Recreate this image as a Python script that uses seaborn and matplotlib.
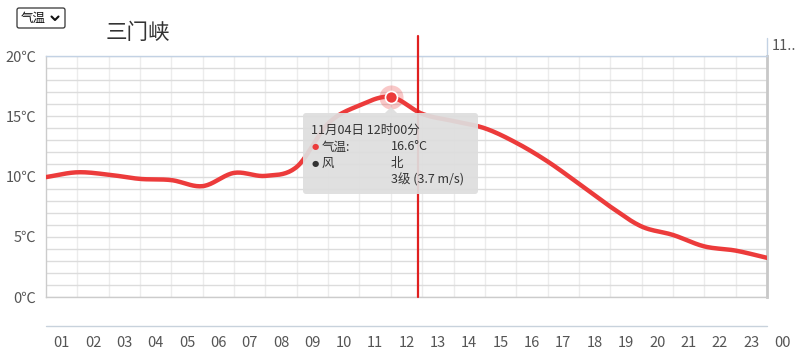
import numpy as np
import pandas as pd
import matplotlib
matplotlib.use("Agg")
import matplotlib.pyplot as plt
import seaborn as sns
from matplotlib.patches import FancyBboxPatch, Polygon
from matplotlib.lines import Line2D

# ---------------- data ----------------
hour_labels = ["01", "02", "03", "04", "05", "06", "07", "08", "09", "10", "11", "12",
               "13", "14", "15", "16", "17", "18", "19", "20", "21", "22", "23", "00"]
temps = [9.95, 10.35, 10.15, 9.8, 9.7, 9.2, 10.3, 10.05, 10.8, 14.4, 15.9, 16.6,
         15.2, 14.6, 14.0, 12.8, 11.25, 9.4, 7.5, 5.85, 5.15, 4.2, 3.85, 3.25]
y_ticks = [0, 5, 10, 15, 20]
y_tick_labels = ["0℃", "5℃", "10℃", "15℃", "20℃"]
hover_index = 11
now_pos = 11.87
tooltip_lines = ["11月04日 12时00分", "气温:", "16.6°C", "风", "北", "3级 (3.7 m/s)"]
title = "三门峡"
select_label = "气温"
next_day_label = "11.."

W, H = 797, 358
RED = "#ec3b3b"

sns.set_theme(style="white")
plt.rcParams["font.family"] = ["Noto Sans CJK SC", "DejaVu Sans"]

fig = plt.figure(figsize=(W / 100, H / 100), dpi=100)
L, R, T, B = 46, 767, 56, 297
ax = fig.add_axes([L / W, 1 - B / H, (R - L) / W, (B - T) / H])

xs = np.arange(len(temps))


def catmull_rom(x, y, n=20):
    x = np.asarray(x, float)
    y = np.asarray(y, float)
    px = np.concatenate([[2 * x[0] - x[1]], x, [2 * x[-1] - x[-2]]])
    py = np.concatenate([[2 * y[0] - y[1]], y, [2 * y[-1] - y[-2]]])
    ox, oy = [], []
    for i in range(1, len(px) - 2):
        t = np.linspace(0, 1, n, endpoint=False)
        p0, p1, p2, p3 = py[i - 1], py[i], py[i + 1], py[i + 2]
        yy = 0.5 * ((2 * p1) + (-p0 + p2) * t + (2 * p0 - 5 * p1 + 4 * p2 - p3) * t ** 2
                    + (-p0 + 3 * p1 - 3 * p2 + p3) * t ** 3)
        xx = px[i] + (px[i + 1] - px[i]) * t
        ox.append(xx)
        oy.append(yy)
    ox.append([x[-1]])
    oy.append([y[-1]])
    return np.concatenate(ox), np.concatenate(oy)


sx, sy = catmull_rom(xs, temps)
df = pd.DataFrame({"x": sx, "t": sy})

# grid
for v in range(1, 23):
    ax.axvline(v, color="#ececec", lw=1, zorder=0)
for v in range(0, 21):
    ax.axhline(v, color="#dcdcdc", lw=1, zorder=0)

sns.lineplot(data=df, x="x", y="t", color=RED, lw=3.2, ax=ax, zorder=3,
             solid_capstyle="round", sort=False)

ax.set_xlim(0, 23)
ax.set_ylim(0, 20)
ax.set_xticks([])
ax.set_yticks(y_ticks)
ax.set_yticklabels(y_tick_labels, fontsize=10.5, color="#555555")
ax.tick_params(axis="y", length=0, pad=7)
ax.set_xlabel("")
ax.set_ylabel("")

for s in ["left", "bottom"]:
    ax.spines[s].set_color("#cccccc")
    ax.spines[s].set_linewidth(1)
ax.spines["top"].set_color("#c3d2e4")
ax.spines["top"].set_linewidth(1)
ax.spines["right"].set_color("#c8c8c8")
ax.spines["right"].set_linewidth(2)

# x labels
xt = ax.get_xaxis_transform()
for i, lab in enumerate(hour_labels):
    ax.text(i + 0.5, -(343 - 297) / (B - T), lab, transform=xt, ha="center", va="center",
            fontsize=10.5, color="#555555", clip_on=False)
ax.plot([0, 23], [-(326 - 297) / (B - T)] * 2, transform=xt, color="#c8d2dc", lw=1,
        clip_on=False)

# current time line
ax.plot([now_pos, now_pos], [0, 1 + (56 - 36) / (B - T)], transform=xt, color="#e02020",
        lw=1.6, clip_on=False, zorder=4)

# right panel edge
ax.plot([23, 23], [1, 1 + (56 - 38) / (B - T)], transform=xt, color="#c3d2e4", lw=1,
        clip_on=False)
fig.text(772 / W, 1 - 46 / H, next_day_label, fontsize=10.5, color="#555555", va="center")

# hover marker
ax.scatter([xs[hover_index]], [temps[hover_index]], s=300, color=RED, alpha=0.28,
           zorder=5, linewidths=0)
ax.scatter([xs[hover_index]], [temps[hover_index]], s=75, color=RED, edgecolor="white",
           linewidths=1.2, zorder=6)

# tooltip (pixel coords via inches)
tr = fig.dpi_scale_trans


def P(x, y):
    return (x / 100, (H - y) / 100)


bx0, by0 = P(303, 194)
bx1, by1 = P(478, 113)
tip = FancyBboxPatch((bx0, by0), bx1 - bx0, by1 - by0, boxstyle="round,pad=0,rounding_size=0.03",
                     transform=tr, facecolor="#dedede", edgecolor="none", alpha=0.93,
                     zorder=10)
fig.patches.append(tip)
tri = Polygon([P(385, 113), P(397, 113), P(391, 107)], closed=True, transform=tr,
              facecolor="#dedede", edgecolor="none", alpha=0.93, zorder=10)
fig.patches.append(tri)

fs = 9
fig.text(311 / W, 1 - 130 / H, tooltip_lines[0], fontsize=fs, color="#333333", va="center", zorder=11)
fig.text(315 / W, 1 - 147 / H, "●", fontsize=6, color=RED, va="center", ha="center", zorder=11,
         family=["DejaVu Sans"])
fig.text(322 / W, 1 - 147 / H, tooltip_lines[1], fontsize=fs, color="#333333", va="center", zorder=11)
fig.text(391 / W, 1 - 147 / H, tooltip_lines[2], fontsize=fs, color="#333333", va="center", zorder=11)
fig.text(315 / W, 1 - 163 / H, "●", fontsize=6, color="#333333", va="center", ha="center", zorder=11,
         family=["DejaVu Sans"])
fig.text(322 / W, 1 - 163 / H, tooltip_lines[3], fontsize=fs, color="#333333", va="center", zorder=11)
fig.text(391 / W, 1 - 163 / H, tooltip_lines[4], fontsize=fs, color="#333333", va="center", zorder=11)
fig.text(391 / W, 1 - 180 / H, tooltip_lines[5], fontsize=fs, color="#333333", va="center", zorder=11)

# title
fig.text(106 / W, 1 - 33 / H, title, fontsize=15.5, color="#333333", va="center")

# select box
sx0, sy0 = P(17, 28)
sx1, sy1 = P(65, 8)
sel = FancyBboxPatch((sx0, sy0), sx1 - sx0, sy1 - sy0, boxstyle="round,pad=0,rounding_size=0.02",
                     transform=tr, facecolor="white", edgecolor="#333333", lw=0.9)
fig.patches.append(sel)
fig.text(21 / W, 1 - 18 / H, select_label, fontsize=9, color="#111111", va="center")
chev = Line2D([51.5 / 100, 55 / 100, 58.5 / 100], [(H - 16.5) / 100, (H - 20) / 100, (H - 16.5) / 100],
              transform=tr, color="#111111", lw=1.5)
fig.lines.append(chev)

fig.savefig("out.png", dpi=100)
